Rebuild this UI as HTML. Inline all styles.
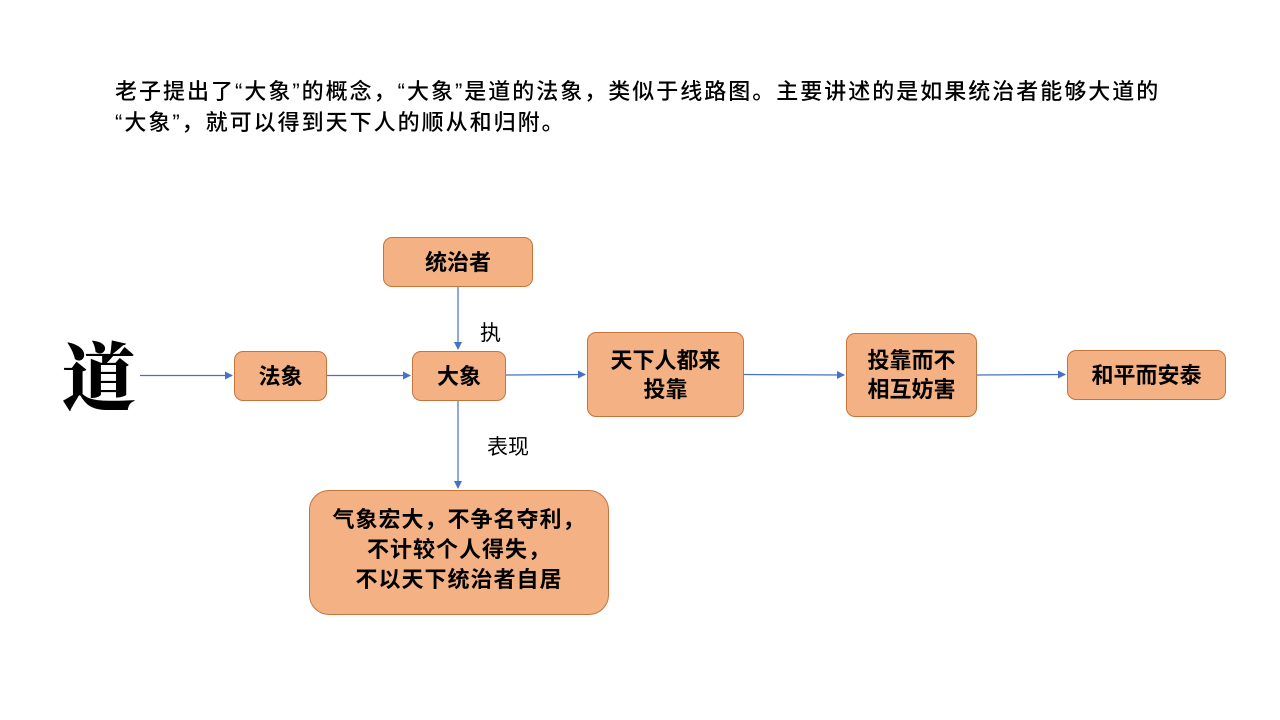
<!DOCTYPE html>
<html><head><meta charset="utf-8"><style>
body{margin:0;width:1280px;height:720px;background:#fff;position:relative;overflow:hidden;font-family:"Liberation Sans","Noto Sans CJK SC",sans-serif;}
.t{position:absolute;left:115px;top:76px;font-size:22px;letter-spacing:2px;line-height:31px;color:#000;white-space:nowrap;font-weight:500;}
.b{position:absolute;box-sizing:border-box;background:#f4b183;border:1px solid #c5743a;border-radius:9px;display:flex;align-items:center;justify-content:center;text-align:center;font-weight:bold;font-size:22px;line-height:29px;color:#000;}
.l{position:absolute;font-size:21px;color:#000;}
</style></head><body>
<div class="t">老子提出了“大象”的概念，“大象”是道的法象，类似于线路图。主要讲述的是如果统治者能够大道的<br>“大象”，就可以得到天下人的顺从和归附。</div>
<div style="position:absolute;left:62px;top:328px;font-family:'Noto Serif CJK SC',serif;font-weight:900;font-size:74px;line-height:90px;">道</div>
<svg width="1280" height="720" style="position:absolute;left:0;top:0">
<defs><marker id="a" markerWidth="8" markerHeight="8" refX="7" refY="4" orient="auto" markerUnits="userSpaceOnUse"><path d="M0,0 L8,4 L0,8 z" fill="#4472c4"/></marker></defs>
<g stroke="#4472c4" stroke-width="1.2" fill="none" marker-end="url(#a)">
<line x1="140" y1="375.5" x2="232" y2="375.5"/>
<line x1="326" y1="375.5" x2="410" y2="375.5"/>
<line x1="505" y1="375" x2="585" y2="374.5"/>
<line x1="743" y1="374.5" x2="844" y2="375"/>
<line x1="976" y1="375" x2="1065" y2="374.5"/>
<line x1="458" y1="286" x2="458" y2="349"/>
<line x1="458" y1="400" x2="458" y2="488"/>
</g></svg>
<div class="b" style="left:383px;top:237px;width:150px;height:50px;">统治者</div>
<div class="b" style="left:234px;top:351px;width:93px;height:50px;">法象</div>
<div class="b" style="left:412px;top:351px;width:94px;height:50px;">大象</div>
<div class="b" style="left:587px;top:332px;width:157px;height:85px;">天下人都来<br>投靠</div>
<div class="b" style="left:846px;top:333px;width:131px;height:84px;">投靠而不<br>相互妨害</div>
<div class="b" style="left:1067px;top:350px;width:159px;height:50px;">和平而安泰</div>
<div class="b" style="left:309px;top:490px;width:300px;height:125px;border-radius:20px;line-height:30px;padding-bottom:6px;letter-spacing:1px;">气象宏大，不争名夺利，<br>不计较个人得失，<br>不以天下统治者自居</div>
<div class="l" style="left:480px;top:317px;">执</div>
<div class="l" style="left:487px;top:431px;">表现</div>
</body></html>
